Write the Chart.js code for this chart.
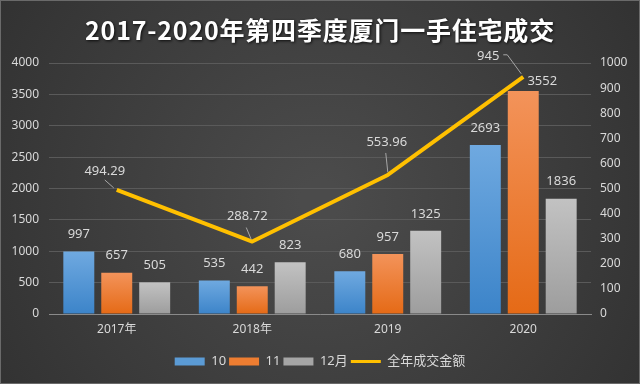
<!DOCTYPE html>
<html>
<head>
<meta charset="utf-8">
<script src="https://cdn.jsdelivr.net/npm/chart.js@4.4.1/dist/chart.umd.min.js"></script>
<style>
  html, body { margin: 0; padding: 0; background: #3a3a3a; }
  #wrap { width: 640px; height: 384px; position: relative; }
</style>
</head>
<body>
<div id="wrap"><canvas id="barChart" width="640" height="384"></canvas></div>
<script>
// data
var years = ['2017年', '2018年', '2019', '2020'];
var oct = [997, 535, 680, 2693];
var nov = [657, 442, 957, 3552];
var dec = [505, 823, 1325, 1836];
var yearTotal = [494.29, 288.72, 553.96, 945];
var seriesNames = ['10', '11', '12月', '全年成交金额'];
var leftTicks = [0, 500, 1000, 1500, 2000, 2500, 3000, 3500, 4000];
var rightTicks = [0, 100, 200, 300, 400, 500, 600, 700, 800, 900, 1000];
var chartTitle = '2017-2020年第四季度厦门一手住宅成交';

// styles
var fontFam = "'Noto Sans', 'Noto Sans CJK SC', sans-serif";
var textCol = '#d9d9d9';
var gridCol = '#5a5a5a';
var solidCols = ['#5b9bd5', '#ed7d31', '#a5a5a5', '#ffc000'];
// label offsets for the line (dx, dy from point) and leader line points
var lineLabelPos = [
  { dx: -12, dy: -19, lead: [[-12, -10], [-3, -2]] },
  { dx: -5, dy: -25, lead: [[-6, -14], [-1, -2]] },
  { dx: -1, dy: -33, lead: [[-2, -22], [0, -3]] },
  { dx: -35, dy: -21, lead: [[-20, -22], [-16, -22], [-2, -3]] }
];
// bar labels that Excel moved by hand: "dataset-index": [dx, dy]
var barLabelNudge = { '1-3': [19, 7] };

function barFill(topCol, botCol) {
  return function (ctx) {
    var chart = ctx.chart;
    if (!chart.chartArea || ctx.type !== 'data' || !chart.scales.y) return botCol;
    var ys = chart.scales.y;
    var yTop = ys.getPixelForValue(ctx.raw);
    var yBot = ys.getPixelForValue(0);
    var g = chart.ctx.createLinearGradient(0, yTop, 0, yBot);
    g.addColorStop(0, topCol);
    g.addColorStop(1, botCol);
    return g;
  };
}

function plainTick(v) { return String(v); }

// background + title
var bgPlugin = {
  id: 'bgPlugin',
  beforeDraw: function (chart) {
    var c = chart.ctx;
    c.save();
    var g = c.createRadialGradient(320, 200, 20, 320, 200, 420);
    g.addColorStop(0, '#4b4b4b');
    g.addColorStop(1, '#2f2f2f');
    c.fillStyle = g;
    c.fillRect(0, 0, chart.width, chart.height);
    c.strokeStyle = '#6a6a6a';
    c.lineWidth = 1;
    c.strokeRect(0.5, 0.5, chart.width - 1, chart.height - 1);

    c.font = "bold 25px 'Noto Sans CJK SC', sans-serif";
    if ('letterSpacing' in c) c.letterSpacing = '0.8px';
    c.textAlign = 'center';
    c.textBaseline = 'middle';
    c.shadowColor = 'rgba(0,0,0,0.8)';
    c.shadowBlur = 3;
    c.shadowOffsetX = 1;
    c.shadowOffsetY = 1;
    c.fillStyle = '#ffffff';
    c.fillText(chartTitle, 320, 30);
    c.restore();
  }
};

// value labels
var labelPlugin = {
  id: 'labelPlugin',
  afterDatasetsDraw: function (chart) {
    var c = chart.ctx;
    c.save();
    c.font = '13px ' + fontFam;
    c.fillStyle = textCol;
    c.textAlign = 'center';
    c.textBaseline = 'middle';
    for (var d = 0; d < 3; d++) {
      var meta = chart.getDatasetMeta(d);
      meta.data.forEach(function (bar, i) {
        var nudge = barLabelNudge[d + '-' + i] || [0, 0];
        c.fillText(String(chart.data.datasets[d].data[i]), bar.x + nudge[0], bar.y - 17 + nudge[1]);
      });
    }
    var lm = chart.getDatasetMeta(3);
    lm.data.forEach(function (pt, i) {
      var p = lineLabelPos[i];
      c.strokeStyle = '#a6a6a6';
      c.lineWidth = 1;
      c.beginPath();
      p.lead.forEach(function (q, k) {
        if (k === 0) c.moveTo(pt.x + q[0], pt.y + q[1]);
        else c.lineTo(pt.x + q[0], pt.y + q[1]);
      });
      c.stroke();
      c.fillText(String(yearTotal[i]), pt.x + p.dx, pt.y + p.dy);
    });
    c.restore();
  }
};

var barData = {
  labels: years,
  datasets: [
    { label: seriesNames[0], data: oct, backgroundColor: barFill('#6fa9e0', '#3c84c9'), yAxisID: 'y', order: 1, pointStyle: 'rect' },
    { label: seriesNames[1], data: nov, backgroundColor: barFill('#f3935a', '#e56a16'), yAxisID: 'y', order: 1, pointStyle: 'rect' },
    { label: seriesNames[2], data: dec, backgroundColor: barFill('#c2c2c2', '#9d9d9d'), yAxisID: 'y', order: 1, pointStyle: 'rect' },
    {
      type: 'line', label: seriesNames[3], data: yearTotal, yAxisID: 'y1', order: 0,
      borderColor: '#ffc000', borderWidth: 4, borderJoinStyle: 'round',
      pointRadius: 0, pointStyle: 'line', pointBorderColor: '#ffc000', pointBorderWidth: 3,
      tension: 0, fill: false
    }
  ]
};

var barOptions = {
  responsive: false,
  animation: false,
  layout: { padding: { top: 63, bottom: 6, left: 0, right: 0 } },
  datasets: { bar: { categoryPercentage: 0.84, barPercentage: 0.816 } },
  plugins: {
    tooltip: { enabled: false },
    title: { display: false },
    legend: {
      position: 'bottom',
      labels: {
        usePointStyle: true,
        pointStyleWidth: 30,
        boxHeight: 8,
        padding: 3,
        color: textCol,
        font: { family: fontFam, size: 13 },
        generateLabels: function (chart) {
          var items = Chart.defaults.plugins.legend.labels.generateLabels(chart);
          items.sort(function (a, b) { return a.datasetIndex - b.datasetIndex; });
          items.forEach(function (it) {
            if (it.datasetIndex < 3) {
              it.fillStyle = solidCols[it.datasetIndex];
              it.strokeStyle = solidCols[it.datasetIndex];
              it.lineWidth = 0;
            }
          });
          return items;
        }
      }
    }
  },
  scales: {
    x: {
      grid: { display: false, drawTicks: false },
      border: { color: '#8a8a8a', width: 1 },
      ticks: { color: textCol, font: { family: fontFam, size: 12 }, padding: 8 },
      afterFit: function (s) { s.height = 38; }
    },
    y: {
      position: 'left',
      min: 0, max: 4000,
      afterBuildTicks: function (s) { s.ticks = leftTicks.map(function (v) { return { value: v }; }); },
      grid: { color: gridCol, drawTicks: false },
      border: { display: false },
      ticks: { color: textCol, font: { family: fontFam, size: 12 }, padding: 10, callback: plainTick },
      afterFit: function (s) { s.width = 49; }
    },
    y1: {
      position: 'right',
      min: 0, max: 1000,
      afterBuildTicks: function (s) { s.ticks = rightTicks.map(function (v) { return { value: v }; }); },
      grid: { display: false, drawTicks: false },
      border: { display: false },
      ticks: { color: textCol, font: { family: fontFam, size: 12 }, padding: 9, callback: plainTick },
      afterFit: function (s) { s.width = 49; }
    }
  }
};

var ctx2 = document.getElementById('barChart').getContext('2d');
var chart = new Chart(ctx2, { type: 'bar', data: barData, options: barOptions, plugins: [bgPlugin, labelPlugin] });
</script>
</body>
</html>
